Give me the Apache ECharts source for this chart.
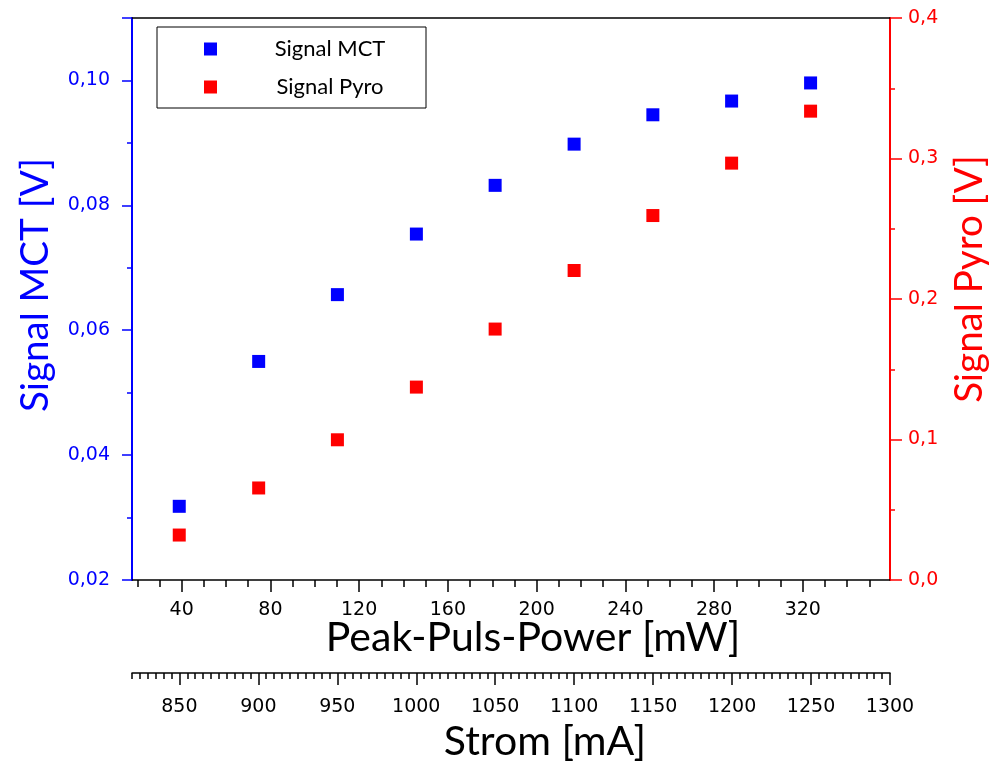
<!DOCTYPE html>
<html>
<head>
<meta charset="utf-8">
<script src="https://cdn.jsdelivr.net/npm/echarts@6/dist/echarts.min.js"></script>
<style>
  html, body { margin: 0; padding: 0; background: #fff; }
  #chart { width: 997px; height: 762px; }
</style>
</head>
<body>
<div id="chart"></div>
<script>
// Measured values
const powerMW    = [38.9, 74.7, 110.2, 145.8, 181.3, 216.9, 252.4, 287.9, 323.5];
const signalMCT  = [0.0318, 0.0550, 0.0657, 0.0754, 0.0832, 0.0898, 0.0945, 0.0967, 0.0996];
const signalPyro = [0.0320, 0.0655, 0.0998, 0.1373, 0.1786, 0.2203, 0.2594, 0.2967, 0.3337];

// Axis tick positions
const powerMajorTicks = [40, 80, 120, 160, 200, 240, 280, 320];
const powerMinorTicks = [20, 30, 50, 60, 70, 90, 100, 110, 130, 140, 150, 170, 180, 190,
                         210, 220, 230, 250, 260, 270, 290, 300, 310, 330, 340, 350];
const stromMajorTicks = [850, 900, 950, 1000, 1050, 1100, 1150, 1200, 1250, 1300];

const POWER_MIN = 17.6, POWER_MAX = 359.3;
const STROM_MIN = 820, STROM_MAX = 1300;

const BLUE = '#0000ff', RED = '#ff0000';
const tickFont = { fontFamily: 'DejaVu Sans', fontSize: 19 };
const nameFont = 'Lato';

const chart = echarts.init(document.getElementById('chart'), null, { renderer: 'canvas' });

const comma = (v, d) => v.toFixed(d).replace('.', ',');

chart.setOption({
  animation: false,
  backgroundColor: '#fff',
  grid: { left: 132, right: 107, top: 18, bottom: 182, containLabel: false, outerBoundsMode: 'none' },
  legend: {
    orient: 'vertical',
    left: 157, top: 27,
    padding: [11, 37, 10, 47],
    itemGap: 16,
    itemWidth: 13, itemHeight: 13,
    borderColor: '#000', borderWidth: 1,
    icon: 'rect',
    formatter: name => '{s|}{t|' + name + '}',
    textStyle: {
      color: '#000',
      rich: {
        s: { width: 49 },
        t: { fontFamily: nameFont, fontSize: 22, color: '#000', width: 118, align: 'center', lineHeight: 24 }
      }
    },
    data: ['Signal MCT', 'Signal Pyro']
  },
  xAxis: [
    { // Peak pulse power, major ticks + labels
      type: 'value', position: 'bottom', min: POWER_MIN, max: POWER_MAX,
      name: 'Peak-Puls-Power [mW]', nameLocation: 'middle', nameGap: 37, nameMoveOverlap: false,
      nameTextStyle: { fontFamily: nameFont, fontSize: 41, color: '#000', padding: [0, 0, 0, 44] },
      axisLine: { onZero: false, lineStyle: { color: '#000', width: 1.5 } },
      axisTick: { customValues: powerMajorTicks, length: 12, lineStyle: { color: '#000', width: 1.5 } },
      axisLabel: { customValues: powerMajorTicks, margin: 21, color: '#000', ...tickFont },
      splitLine: { show: false }
    },
    { // Peak pulse power, minor ticks
      type: 'value', position: 'bottom', min: POWER_MIN, max: POWER_MAX,
      axisLine: { show: false, onZero: false },
      axisTick: { customValues: powerMinorTicks, length: 7, lineStyle: { color: '#000', width: 1.5 } },
      axisLabel: { show: false },
      splitLine: { show: false }
    },
    { // Current, major ticks + labels
      type: 'value', position: 'bottom', offset: 93, min: STROM_MIN, max: STROM_MAX,
      name: 'Strom [mA]', nameLocation: 'middle', nameGap: 48, nameMoveOverlap: false,
      nameTextStyle: { fontFamily: nameFont, fontSize: 41, color: '#000', padding: [0, 0, 0, 68] },
      axisLine: { onZero: false, lineStyle: { color: '#000', width: 1.5 } },
      axisTick: { customValues: stromMajorTicks, length: 12, lineStyle: { color: '#000', width: 1.5 } },
      axisLabel: { customValues: stromMajorTicks, margin: 25, color: '#000', ...tickFont, formatter: v => String(v) },
      splitLine: { show: false }
    },
    { // Current, minor ticks every 5 mA
      type: 'value', position: 'bottom', offset: 93, min: STROM_MIN, max: STROM_MAX, interval: 5,
      axisLine: { show: false, onZero: false },
      axisTick: { length: 6, lineStyle: { color: '#000', width: 1.5 } },
      axisLabel: { show: false },
      splitLine: { show: false }
    },
    { // Top frame line
      type: 'value', position: 'top', min: POWER_MIN, max: POWER_MAX,
      axisLine: { onZero: false, lineStyle: { color: '#000', width: 1.5 } },
      axisTick: { show: false }, axisLabel: { show: false }, splitLine: { show: false }
    }
  ],
  yAxis: [
    {
      type: 'value', position: 'left', min: 0.02, max: 0.11, interval: 0.02,
      name: 'Signal MCT [V]', nameLocation: 'middle', nameGap: 77, nameRotate: 90,
      nameTextStyle: { fontFamily: nameFont, fontSize: 38.5, color: BLUE, padding: [0, 0, 0, 28] },
      axisLine: { onZero: false, lineStyle: { color: BLUE, width: 2 } },
      axisTick: { length: 10, lineStyle: { color: BLUE, width: 1.5 } },
      minorTick: { show: true, splitNumber: 2, length: 5, lineStyle: { color: BLUE, width: 1.5 } },
      axisLabel: { margin: 22, color: BLUE, ...tickFont, showMaxLabel: false,
                   formatter: v => (v > 0.105 ? '' : comma(v, 2)) },
      splitLine: { show: false }
    },
    {
      type: 'value', position: 'right', min: 0, max: 0.4, interval: 0.1,
      name: 'Signal Pyro [V]', nameLocation: 'middle', nameGap: 60, nameRotate: 90,
      nameTextStyle: { fontFamily: nameFont, fontSize: 38.5, color: RED, padding: [0, 0, 0, 40] },
      axisLine: { onZero: false, lineStyle: { color: RED, width: 2 } },
      axisTick: { length: 12, lineStyle: { color: RED, width: 1.5 } },
      minorTick: { show: true, splitNumber: 2, length: 5, lineStyle: { color: RED, width: 1.5 } },
      axisLabel: { margin: 18, color: RED, ...tickFont, formatter: v => comma(v, 1) },
      splitLine: { show: false }
    }
  ],
  series: [
    {
      name: 'Signal MCT', type: 'scatter', xAxisIndex: 0, yAxisIndex: 0,
      symbol: 'rect', symbolSize: 13, itemStyle: { color: BLUE, opacity: 1 },
      data: powerMW.map((p, i) => [p, signalMCT[i]])
    },
    {
      name: 'Signal Pyro', type: 'scatter', xAxisIndex: 0, yAxisIndex: 1,
      symbol: 'rect', symbolSize: 13, itemStyle: { color: RED, opacity: 1 },
      data: powerMW.map((p, i) => [p, signalPyro[i]])
    }
  ]
});
</script>
</body>
</html>
